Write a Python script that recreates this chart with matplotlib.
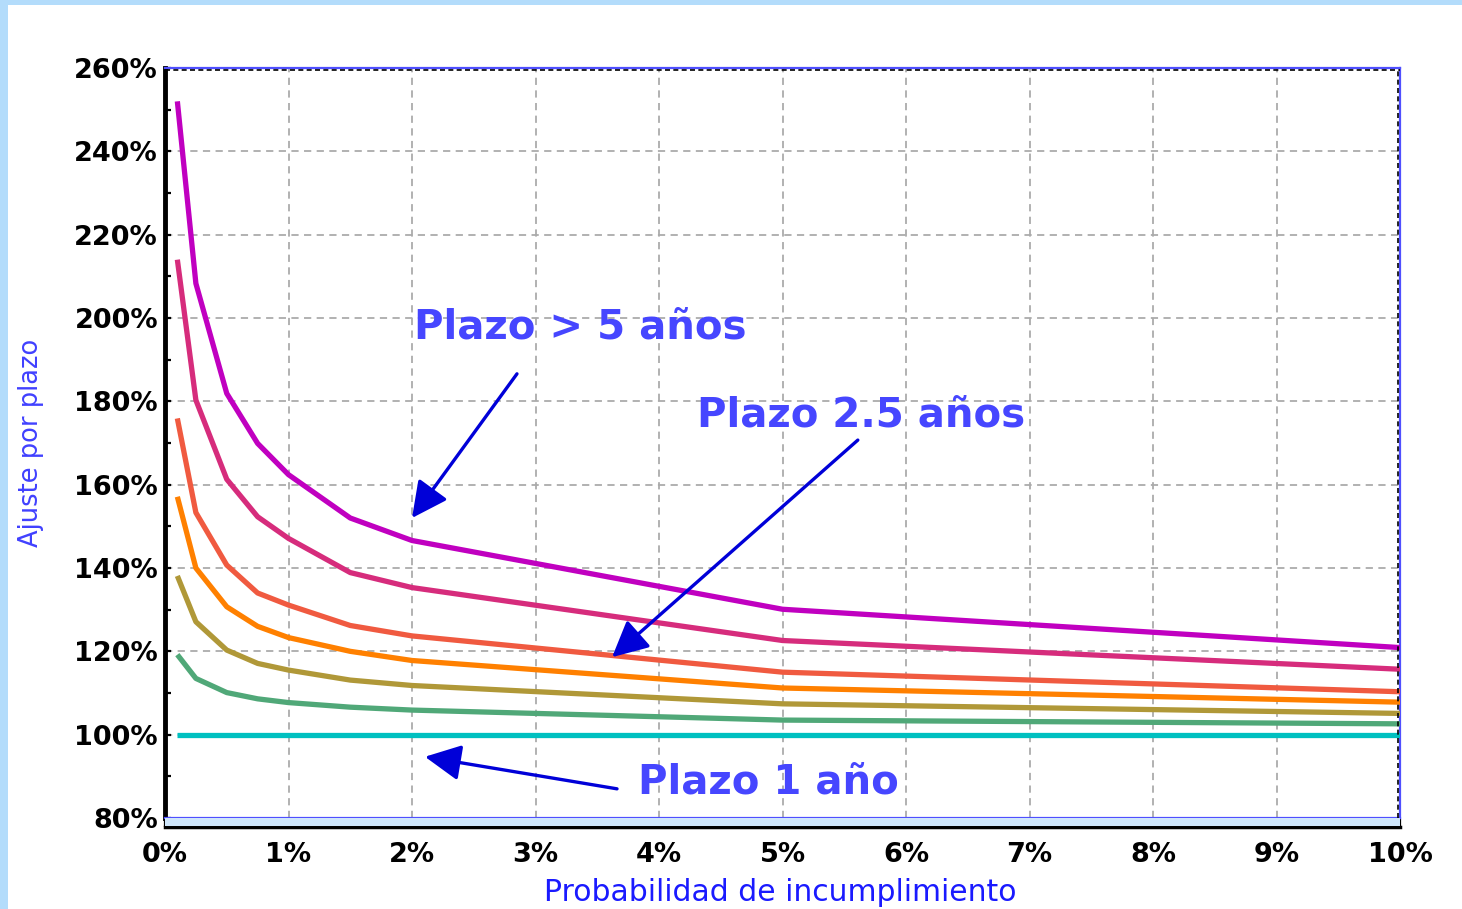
import matplotlib
matplotlib.use("Agg")
import matplotlib.pyplot as plt
from matplotlib.ticker import MultipleLocator, FuncFormatter
from matplotlib.patches import Rectangle
import matplotlib.transforms as mtransforms

# ---------------- data ----------------
pd_pct = [0.1, 0.25, 0.5, 0.75, 1.0, 1.5, 2.0, 5.0, 10.0]

plazo_1 = [100, 100, 100, 100, 100, 100, 100, 100, 100]
plazo_1_5 = [119.2, 113.5, 110.1, 108.6, 107.7, 106.6, 105.9, 103.5, 102.6]
plazo_2 = [138.1, 127.1, 120.3, 117.1, 115.5, 113.1, 111.8, 107.4, 105.1]
plazo_2_5 = [157.1, 140.0, 130.7, 126.0, 123.3, 120.0, 117.8, 111.2, 107.8]
plazo_3 = [175.9, 153.3, 140.7, 134.0, 131.1, 126.2, 123.7, 115.0, 110.3]
plazo_4 = [214.0, 180.3, 161.3, 152.3, 147.1, 138.9, 135.3, 122.6, 115.7]
plazo_5 = [252.0, 208.3, 181.9, 169.9, 162.4, 152.0, 146.6, 130.1, 120.9]

series = [plazo_1, plazo_1_5, plazo_2, plazo_2_5, plazo_3, plazo_4, plazo_5]
colors = ["#00c0c0", "#50a878", "#b09838", "#ff8000", "#f05a40", "#d62c7c", "#c000c0"]

labels_txt = ["Plazo > 5 años", "Plazo 2.5 años", "Plazo 1 año"]
x_label = "Probabilidad de incumplimiento"
y_label = "Ajuste por plazo"

# ---------------- figure ----------------
W, H = 1462, 909
fig = plt.figure(figsize=(W / 100, H / 100), dpi=100)
fig.patch.set_facecolor("white")

# light-blue outer frame
frame_col = "#b3dcfb"
fig.add_artist(Rectangle((0, 1 - 5 / H), 1, 5 / H, transform=fig.transFigure,
                         facecolor=frame_col, edgecolor="none", zorder=0))
fig.add_artist(Rectangle((0, 0), 8 / W, 1, transform=fig.transFigure,
                         facecolor=frame_col, edgecolor="none", zorder=0))

ax = fig.add_axes([165 / W, 91 / H, 1235 / W, 750 / H])
ax.set_facecolor("white")

for vals, c in zip(series, colors):
    ax.plot(pd_pct, vals, color=c, lw=3.8, solid_joinstyle="round",
            solid_capstyle="butt", zorder=3)

ax.set_xlim(0, 10)
ax.set_ylim(80, 260)
ax.xaxis.set_major_locator(MultipleLocator(1))
ax.xaxis.set_minor_locator(MultipleLocator(0.5))
ax.yaxis.set_major_locator(MultipleLocator(20))
ax.yaxis.set_minor_locator(MultipleLocator(10))
fmt = FuncFormatter(lambda v, p: f"{v:.0f}%")
ax.xaxis.set_major_formatter(fmt)
ax.yaxis.set_major_formatter(fmt)

ax.grid(True, which="major", color="#ababab", linestyle=(0, (4, 3)), lw=1.3)
ax.set_axisbelow(True)

blue_edge = "#4f4fff"
ax.spines["left"].set_color("black")
ax.spines["left"].set_linewidth(3.5)
ax.spines["bottom"].set_position(("outward", 6.5))
ax.spines["bottom"].set_color("black")
ax.spines["bottom"].set_linewidth(2.5)
for s in ("top", "right"):
    ax.spines[s].set_color(blue_edge)
    ax.spines[s].set_linewidth(1.6)

# blue edge at the bottom of the plot area and light band beneath it
ax.plot([0, 1], [0, 0], transform=ax.transAxes, color=blue_edge, lw=1.6,
        clip_on=False, zorder=5)
fig.add_artist(Rectangle((165 / W, (H - 826) / H), 1235 / W, 8 / H,
                         transform=fig.transFigure, facecolor="#cfe6fb",
                         edgecolor="none", zorder=1))
# dashed black inner edges
tr_top = mtransforms.offset_copy(ax.transAxes, fig=fig, y=-2, units="dots")
ax.plot([0, 1], [1, 1], transform=tr_top, color="black", lw=1.2,
        dashes=(3, 2), clip_on=False, zorder=5)
tr_bot = mtransforms.offset_copy(ax.transAxes, fig=fig, y=-3, units="dots")
ax.plot([0, 1], [0, 0], transform=tr_bot, color="black", lw=1.2,
        dashes=(3, 2), clip_on=False, zorder=5)
tr_right = mtransforms.offset_copy(ax.transAxes, fig=fig, x=-2, units="dots")
ax.plot([1, 1], [0, 1], transform=tr_right, color="black", lw=1.2,
        dashes=(3, 2), clip_on=False, zorder=5)

ax.tick_params(axis="x", which="major", direction="in", length=6, width=1.6,
               color="black", pad=11)
ax.tick_params(axis="x", which="minor", direction="in", length=3, width=1.2,
               color="black")
ax.tick_params(axis="y", which="both", direction="in", length=4, width=1.6,
               color="black", pad=5)
for lab in ax.get_xticklabels() + ax.get_yticklabels():
    lab.set_fontfamily("DejaVu Sans")
    lab.set_fontweight("bold")
    lab.set_fontsize(19.5)
    lab.set_color("black")

# axis titles
fig.text(31 / W, 1 - 443 / H, y_label, rotation=90, ha="center", va="center",
         color="#4040ff", fontsize=18.5, family="DejaVu Sans")
fig.text(780 / W, 1 - 901 / H, x_label, ha="center", va="baseline",
         color="#1a1aff", fontsize=21.5, family="DejaVu Sans")

# annotations
txt_col = "#4646ff"
arrow_col = "#0000d8"
ax.text(2.02, 197.8, labels_txt[0], fontsize=29, fontweight="bold",
        color=txt_col, ha="left", va="center", family="DejaVu Sans", zorder=6)
ax.text(4.31, 176.5, labels_txt[1], fontsize=29, fontweight="bold",
        color=txt_col, ha="left", va="center", family="DejaVu Sans", zorder=6)
ax.text(3.83, 88.4, labels_txt[2], fontsize=29, fontweight="bold",
        color=txt_col, ha="left", va="center", family="DejaVu Sans", zorder=6)

arrow_kw = dict(arrowstyle="-|>,head_length=1.1,head_width=0.55", color=arrow_col,
                lw=2.4, shrinkA=0, shrinkB=0, mutation_scale=20)
ax.annotate("", xy=(2.0, 152.0), xytext=(2.85, 186.6), arrowprops=arrow_kw, zorder=6)
ax.annotate("", xy=(3.62, 118.6), xytext=(5.61, 170.7), arrowprops=arrow_kw, zorder=6)
ax.annotate("", xy=(2.105, 94.7), xytext=(3.66, 87.0), arrowprops=arrow_kw, zorder=6)

fig.savefig("out.png", dpi=100, facecolor="white")
